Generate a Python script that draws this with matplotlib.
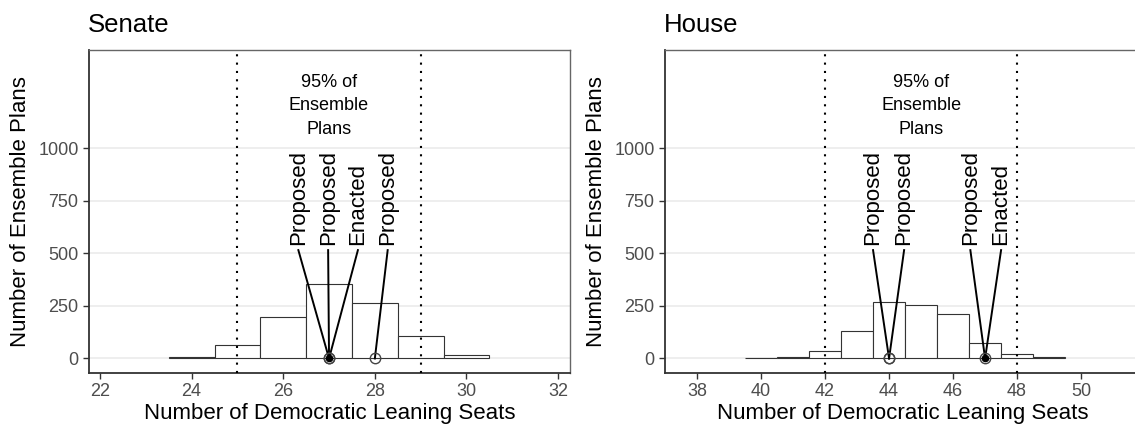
import matplotlib.pyplot as plt

plt.rcParams['font.family'] = ['Liberation Sans', 'DejaVu Sans']

# Ensemble histograms: seats won vs number of plans
senate_seats = [24, 25, 26, 27, 28, 29, 30]
senate_counts = [8, 63, 197, 352, 265, 105, 16]
house_seats = [40, 41, 42, 43, 44, 45, 46, 47, 48, 49]
house_counts = [3, 7, 36, 130, 270, 252, 210, 72, 20, 6]

# 95% interval of the ensemble
senate_bounds = [25, 29]
house_bounds = [42, 48]

# Plans being compared
senate_plans = ['Proposed', 'Proposed', 'Enacted', 'Proposed']
senate_plan_seats = [27, 27, 27, 28]
house_plans = ['Proposed', 'Proposed', 'Proposed', 'Enacted']
house_plan_seats = [44, 44, 47, 47]

senate_xticks = [22, 24, 26, 28, 30, 32]
house_xticks = [38, 40, 42, 44, 46, 48, 50]
yticks = [0, 250, 500, 750, 1000]

W, H = 1135, 424
fig = plt.figure(figsize=(W / 100, H / 100), dpi=100)


def px_axes(left, right, top=50, bottom=373):
    return fig.add_axes([left / W, 1 - bottom / H, (right - left) / W, (bottom - top) / H])


def panel(ax, title, seats, counts, bounds, plans, plan_seats, label_x, xlim, xticks, note_x):
    ax.set_xlim(*xlim)
    ax.set_ylim(-69, 1466)
    for y in yticks:
        ax.axhline(y, color='#ebebeb', lw=1.2, zorder=0)
    ax.bar(seats, counts, width=1, color='white', edgecolor='#333333', lw=0.8, zorder=2)
    for b in bounds:
        ax.axvline(b, color='black', lw=1.5, ls=(0, (1, 3)), zorder=3)

    ax.text(note_x, 1201, '95% of\nEnsemble\nPlans', ha='center', va='center',
            fontsize=13, linespacing=1.5, zorder=5)

    for name, s, lx in zip(plans, plan_seats, label_x):
        ax.plot([lx, s], [515, 0], color='black', lw=1.4, zorder=4)
        ax.text(lx, 539, name, rotation=90, ha='center', va='bottom', fontsize=16, zorder=5)

    for name, s in zip(plans, plan_seats):
        if name == 'Proposed':
            ax.plot(s, 0, 'o', ms=7.5, mfc='none', mec='#444444', mew=1.0, zorder=6)
    for name, s in zip(plans, plan_seats):
        if name == 'Enacted':
            ax.plot(s, 0, 'o', ms=4.5, mfc='black', mec='black', zorder=7)

    ax.set_xticks(xticks)
    ax.set_yticks(yticks)
    ax.tick_params(labelsize=13, labelcolor='#4d4d4d', color='#333333',
                   length=4.5, width=1, pad=3)
    for side in ['top', 'right']:
        ax.spines[side].set_color('#666666')
        ax.spines[side].set_linewidth(1.0)
    for side in ['left', 'bottom']:
        ax.spines[side].set_color('#333333')
        ax.spines[side].set_linewidth(1.3)
    ax.set_xlabel('Number of Democratic Leaning Seats', fontsize=16, labelpad=1.5)
    ax.set_ylabel('Number of Ensemble Plans', fontsize=16, labelpad=5)
    fig.text(ax.get_position().x0 - 1 / W, 1 - 32 / H, title, fontsize=18.5,
             ha='left', va='baseline')


ax1 = px_axes(89, 570)
panel(ax1, 'Senate', senate_seats, senate_counts, senate_bounds, senate_plans,
      senate_plan_seats, [26.33, 26.98, 27.63, 28.28], (21.76, 32.26), senate_xticks, 27)

ax2 = px_axes(665, 1140)
panel(ax2, 'House', house_seats, house_counts, house_bounds, house_plans,
      house_plan_seats, [43.5, 44.47, 46.54, 47.5], (37.0, 51.84), house_xticks, 45)

fig.savefig('out.png', dpi=100)
